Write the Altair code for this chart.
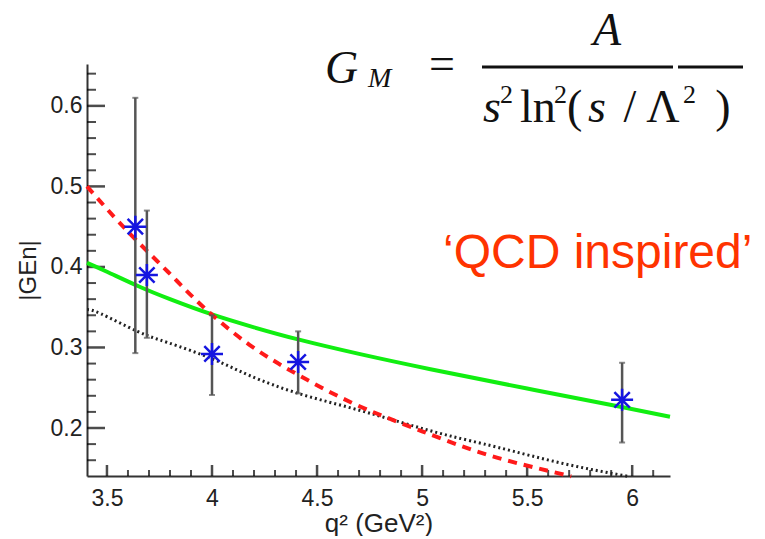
import altair as alt
import pandas as pd

# ---- data ----
point_q2 = [3.635, 3.69, 4.0, 4.41, 5.952]
point_gen = [0.450, 0.390, 0.292, 0.282, 0.235]
err_hi = [0.610, 0.470, 0.340, 0.320, 0.281]
err_lo = [0.293, 0.312, 0.241, 0.243, 0.182]

green_q2 = [3.405, 3.5, 3.65, 3.8, 4.0, 4.2, 4.41, 4.7, 5.04, 5.5, 5.95, 6.18]
green_gen = [0.405, 0.394, 0.376, 0.360, 0.341, 0.325, 0.310, 0.292, 0.273, 0.249, 0.226, 0.214]

red_q2 = [3.405, 3.5, 3.625, 3.79, 3.96, 4.18, 4.41, 4.66, 4.9, 5.1, 5.36, 5.71]
red_gen = [0.500, 0.472, 0.437, 0.394, 0.350, 0.303, 0.266, 0.232, 0.206, 0.186, 0.163, 0.140]

dot_q2 = [3.405, 3.47, 3.645, 3.79, 4.0, 4.18, 4.41, 4.66, 4.9, 5.12, 5.36, 5.67, 5.98]
dot_gen = [0.347, 0.342, 0.320, 0.306, 0.286, 0.265, 0.243, 0.225, 0.207, 0.191, 0.176, 0.156, 0.140]

x_major = [3.5, 4.0, 4.5, 5.0, 5.5, 6.0]
x_minor = [3.6, 3.7, 3.8, 3.9, 4.1, 4.2, 4.3, 4.4, 4.6, 4.7, 4.8, 4.9,
           5.1, 5.2, 5.3, 5.4, 5.6, 5.7, 5.8, 5.9, 6.1]
y_major = [0.2, 0.3, 0.4, 0.5, 0.6]
y_minor = [0.16, 0.18, 0.22, 0.24, 0.26, 0.28, 0.32, 0.34, 0.36, 0.38,
           0.42, 0.44, 0.46, 0.48, 0.52, 0.54, 0.56, 0.58, 0.62, 0.64]

x_domain = [3.405, 6.18]
y_domain = [0.1404, 0.652]

W, H = 583, 412

# ---- tables ----
pts = pd.DataFrame({"q2": point_q2, "gen": point_gen, "lo": err_lo, "hi": err_hi})
green = pd.DataFrame({"q2": green_q2, "gen": green_gen})
red = pd.DataFrame({"q2": red_q2, "gen": red_gen})
dots = pd.DataFrame({"q2": dot_q2, "gen": dot_gen})
xmaj = pd.DataFrame({"q2": x_major, "gen": [y_domain[0]] * len(x_major)})
xmin = pd.DataFrame({"q2": x_minor, "gen": [y_domain[0]] * len(x_minor)})
ymaj = pd.DataFrame({"gen": y_major, "q2": [x_domain[0]] * len(y_major)})
ymin = pd.DataFrame({"gen": y_minor, "q2": [x_domain[0]] * len(y_minor)})
one = pd.DataFrame({"k": [0]})

FONT = "Liberation Sans"
xscale = alt.Scale(domain=x_domain, nice=False, zero=False)
yscale = alt.Scale(domain=y_domain, nice=False, zero=False)
xaxis = alt.Axis(values=x_major, format=".1~f", ticks=False, grid=False,
                 domainColor="#333", domainWidth=2, labelFont=FONT,
                 labelFontSize=23, labelColor="#222", labelPadding=11,
                 title="q² (GeV²)", titleFont=FONT, titleFontSize=26,
                 titleFontWeight="normal", titleColor="#222",
                 titleY=55, titleBaseline="alphabetic")
yaxis = alt.Axis(values=y_major, format=".1f", ticks=False, grid=False,
                 domainColor="#333", domainWidth=2, labelFont=FONT,
                 labelFontSize=23, labelColor="#222", labelPadding=5,
                 title="|GEn|", titleFont=FONT, titleFontSize=24,
                 titleFontWeight="normal", titleColor="#222", titlePadding=10)


def X(field="q2"):
    return alt.X(f"{field}:Q", scale=xscale, axis=xaxis)


def Y(field="gen"):
    return alt.Y(f"{field}:Q", scale=yscale, axis=yaxis)


layers = []

# inward axis ticks
layers.append(alt.Chart(xmaj).mark_tick(color="black", orient="vertical",
                                        size=11, thickness=2.5, yOffset=-5.5).encode(
    x=X(), y=Y()))
layers.append(alt.Chart(xmin).mark_tick(color="black", orient="vertical",
                                        size=6, thickness=2, yOffset=-3).encode(
    x=X(), y=Y()))
layers.append(alt.Chart(ymaj).mark_tick(color="black", orient="horizontal",
                                        size=18, thickness=2.5, xOffset=9).encode(
    x=X(), y=Y()))
layers.append(alt.Chart(ymin).mark_tick(color="black", orient="horizontal",
                                        size=9, thickness=2, xOffset=4.5).encode(
    x=X(), y=Y()))

# curves
layers.append(alt.Chart(dots).mark_line(color="#222", strokeWidth=3,
                                        strokeDash=[2, 3], interpolate="natural").encode(
    x=X(), y=Y()))
layers.append(alt.Chart(green).mark_line(color="#11ee11", strokeWidth=4,
                                         interpolate="natural").encode(
    x=X(), y=Y()))
layers.append(alt.Chart(red).mark_line(color="#ff1a1a", strokeWidth=4,
                                       strokeDash=[9, 7], interpolate="natural").encode(
    x=X(), y=Y()))

# error bars with caps
layers.append(alt.Chart(pts).mark_rule(color="#555", strokeWidth=2.5).encode(
    x=X(), y=Y("lo"), y2="hi:Q"))
layers.append(alt.Chart(pts).mark_tick(color="#555555", orient="horizontal",
                                       size=6, thickness=2).encode(x=X(), y=Y("lo")))
layers.append(alt.Chart(pts).mark_tick(color="#555555", orient="horizontal",
                                       size=6, thickness=2).encode(x=X(), y=Y("hi")))

# data markers (ROOT-like asterisk)
star = "M-1,0L1,0M0,-1L0,1M-0.7,-0.7L0.7,0.7M-0.7,0.7L0.7,-0.7"
layers.append(alt.Chart(pts).mark_point(shape=star, size=484, filled=False,
                                        stroke="#1515e0", strokeWidth=2.5,
                                        opacity=1).encode(
    x=X(), y=Y()))


# ---- annotations ----
def txt(text, x, y, size, style="normal", align="left",
        font="Liberation Serif", color="#111"):
    return alt.Chart(one).mark_text(text=text, font=font, fontSize=size,
                                    fontStyle=style, align=align,
                                    baseline="alphabetic", color=color).encode(
        x=alt.value(x), y=alt.value(y))


layers += [
    txt("G", 238, 19, 46, "italic"),
    txt("M", 281, 23, 28, "italic"),
    txt("=", 355, 15, 46, align="center"),
    txt("A", 520, -19, 46, "italic", align="center"),
    txt("s", 396, 58, 46, "italic"),
    txt("2", 413, 39, 26),
    txt("ln", 433, 58, 46),
    txt("2", 467, 39, 26),
    txt("(", 480, 58, 46),
    txt("s", 501, 58, 46, "italic"),
    txt("/", 543, 58, 46, align="center"),
    txt("Λ", 576, 58, 46, align="center"),
    txt("2", 596, 39, 26),
    txt(")", 636, 58, 46, align="center"),
    txt("‘QCD inspired’", 356, 204, 48, font=FONT, color="#ff3300"),
]
layers.append(alt.Chart(one).mark_rule(color="#111", strokeWidth=3).encode(
    x=alt.value(395), x2=alt.value(586), y=alt.value(3)))
layers.append(alt.Chart(one).mark_rule(color="#111", strokeWidth=3).encode(
    x=alt.value(591), x2=alt.value(656), y=alt.value(3)))

chart = alt.layer(*layers).properties(
    width=W, height=H,
    autosize=alt.AutoSizeParams(type="none"),
    padding={"left": 79, "top": 56, "right": 87, "bottom": 60},
).configure_view(strokeWidth=0)

chart.save("out.html", embed_options={"renderer": "svg", "actions": False})
